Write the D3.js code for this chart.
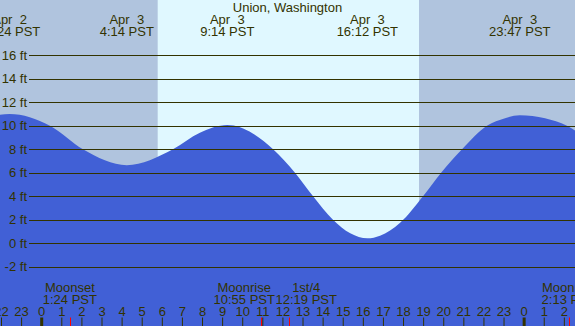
<!DOCTYPE html>
<html>
<head>
<meta charset="utf-8">
<script src="https://cdn.jsdelivr.net/npm/d3@7"></script>
<style>
  body { margin: 0; background: #fff; }
  svg { display: block; }
  text { font-family: "Liberation Sans", Arial, sans-serif; font-size: 13px; fill: #333300; white-space: pre; }
</style>
</head>
<body>
<svg width="575" height="326"></svg>
<script>
const title = 'Union, Washington'

// hours since Apr 3 00:00 PST, tide height in feet
const tideHours = [-2.075, -1.6, 0.41, 2.05, 4.233, 6.53, 7.87, 9.233, 10.5, 11.51, 12.6, 13.5, 14.49, 15.35, 16.2, 16.83, 17.83, 18.97, 19.87, 20.91, 22.15, 23.05, 23.783, 25.04, 26.13, 26.53]
const tideFeet = [10.95, 11.0, 10.0, 8.0, 6.65, 8.0, 9.4, 10.06, 9.35, 8.0, 6.0, 4.0, 2.0, 0.85, 0.42, 0.64, 1.74, 4.0, 6.0, 8.0, 10.0, 10.65, 10.9, 10.64, 10.0, 9.6]

const eventHours = [-1.6, 4.233, 9.233, 16.2, 23.783]
const eventDates = ['Apr  2', 'Apr  3', 'Apr  3', 'Apr  3', 'Apr  3']
const eventTimes = ['22:24 PST', '4:14 PST', '9:14 PST', '16:12 PST', '23:47 PST']

const moonHours = [1.4, 10.917, 12.317, 26.217]
const moonNames = ['Moonset', 'Moonrise', '1st/4', 'Moonrise']
const moonTimes = ['1:24 PST', '10:55 PST', '12:19 PST', '2:13 PST']

const sunrise = 5.77
const sunset = 18.77

const footTicks = [-2, 0, 2, 4, 6, 8, 10, 12, 14, 16]
const hourTicks = d3.range(-2, 27)

const svg = d3.select('svg')
const width = +svg.attr('width')
const height = +svg.attr('height')

const x = d3.scaleLinear().domain([-2.075, 26.53]).range([0, width])
const y = d3.scaleLinear().domain([-7.04, 20.71]).range([height, 0])

// night / day background
svg.append('rect').attr('x', 0).attr('y', 0).attr('width', width).attr('height', height).attr('fill', '#b0c4de')
svg.append('rect')
   .attr('x', x(sunrise)).attr('y', 0)
   .attr('width', x(sunset) - x(sunrise)).attr('height', height)
   .attr('fill', '#e0f8ff')

// water
const tide = tideHours.map((h, i) => [h, tideFeet[i]])
const area = d3.area()
  .x(d => x(d[0]))
  .y0(height)
  .y1(d => y(d[1]))
  .curve(d3.curveMonotoneX)
svg.append('path').datum(tide).attr('d', area).attr('fill', '#4160d6')

// feet grid
const grid = svg.append('g')
grid.selectAll('line')
    .data(footTicks)
    .join('line')
    .attr('x1', 29).attr('x2', width)
    .attr('y1', d => Math.round(y(d)) + 0.5).attr('y2', d => Math.round(y(d)) + 0.5)
    .attr('stroke', '#333300')
grid.selectAll('text')
    .data(footTicks)
    .join('text')
    .attr('x', 27)
    .attr('y', d => y(d) + 4.5)
    .attr('text-anchor', 'end')
    .text(d => d + ' ft')

// title and tide events
svg.append('text').attr('x', width / 2).attr('y', 12).attr('text-anchor', 'middle').text(title)
const ev = svg.append('g').selectAll('g').data(eventHours).join('g')
ev.append('text').attr('x', d => x(d)).attr('y', 24).attr('text-anchor', 'middle').text((_, i) => eventDates[i])
ev.append('text').attr('x', d => x(d)).attr('y', 36).attr('text-anchor', 'middle').text((_, i) => eventTimes[i])

// hour ticks
const hours = svg.append('g')
hours.selectAll('text')
     .data(hourTicks)
     .join('text')
     .attr('x', d => x(d))
     .attr('y', 316)
     .attr('text-anchor', 'middle')
     .text(d => ((d % 24) + 24) % 24)
hours.selectAll('line')
     .data(hourTicks)
     .join('line')
     .attr('x1', d => x(d)).attr('x2', d => x(d))
     .attr('y1', 317.5).attr('y2', height)
     .attr('stroke', '#333300')
     .attr('stroke-width', d => d % 24 === 0 ? 3 : 1)

// moon events, labels pushed apart when they collide
const moonLabelWidth = 62
const moonX = moonHours.map(h => x(h))
for (let i = 0; i < moonX.length - 1; i++) {
  const gap = moonX[i + 1] - moonX[i]
  if (gap < moonLabelWidth) {
    const push = (moonLabelWidth - gap) / 2
    moonX[i] -= push
    moonX[i + 1] += push
  }
}
const moon = svg.append('g')
moon.selectAll('line')
    .data(moonHours)
    .join('line')
    .attr('x1', d => Math.round(x(d)) + 0.5).attr('x2', d => Math.round(x(d)) + 0.5)
    .attr('y1', 317.5).attr('y2', height)
    .attr('stroke', 'red')
moon.selectAll('text.name')
    .data(moonNames)
    .join('text')
    .attr('class', 'name')
    .attr('x', (_, i) => moonX[i])
    .attr('y', 292)
    .attr('text-anchor', 'middle')
    .text(d => d)
moon.selectAll('text.time')
    .data(moonTimes)
    .join('text')
    .attr('class', 'time')
    .attr('x', (_, i) => moonX[i])
    .attr('y', 304)
    .attr('text-anchor', 'middle')
    .text(d => d)
</script>
</body>
</html>
